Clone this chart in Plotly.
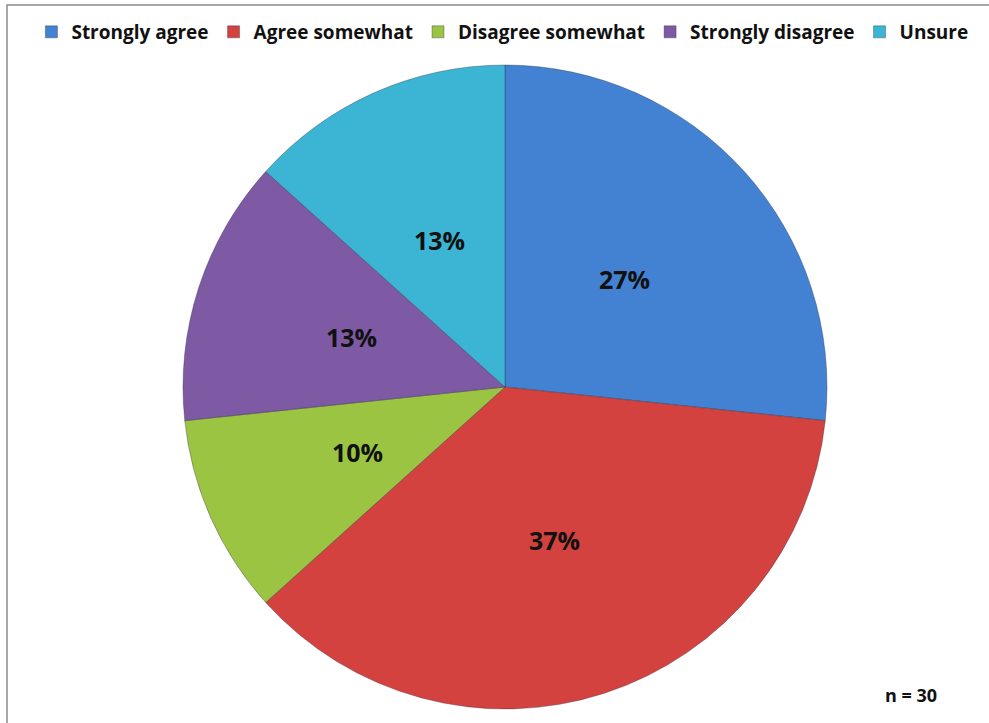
import math
import plotly.graph_objects as go

# Survey responses (n = 30)
categories = ["Strongly agree", "Agree somewhat", "Disagree somewhat",
              "Strongly disagree", "Unsure"]
counts = [8, 11, 3, 4, 4]
slice_colors = ["#4382d2", "#d3423e", "#9cc443", "#7d5aa3", "#3cb5d5"]
sample_note = "n = 30"

FONT = "Open Sans"
W, H = 989, 723

# pie placement (pixels) -> domain
cx, cy, r = 505, 387, 322
dom_x = [(cx - r) / W, (cx + r) / W]
dom_y = [1 - (cy + r) / H, 1 - (cy - r) / H]

fig = go.Figure(
    go.Pie(
        labels=categories,
        values=counts,
        sort=False,
        direction="clockwise",
        rotation=0,
        marker=dict(colors=slice_colors,
                    line=dict(color="rgba(40,40,60,0.35)", width=1)),
        textinfo="none",
        hoverinfo="label+value+percent",
        domain=dict(x=dom_x, y=dom_y),
    )
)

# percentage labels on each slice's bisector, halfway out
total = sum(counts)
start = 0.0
for v in counts:
    frac = v / total
    mid = (start + frac / 2) * 2 * math.pi  # clockwise from 12 o'clock
    start += frac
    px = cx + 0.5 * r * math.sin(mid)
    py = cy - 0.5 * r * math.cos(mid)
    fig.add_annotation(text=f"{round(frac * 100)}%", xref="paper", yref="paper",
                       x=px / W, y=1 - py / H, xanchor="center", yanchor="middle",
                       showarrow=False,
                       font=dict(family=FONT, size=25, color="#111111", weight="bold"))

# light frame along the top and left edges
fig.add_shape(type="rect", xref="paper", yref="paper",
              x0=7 / W, y0=-0.1, x1=1.1, y1=1 - 5 / H,
              line=dict(color="#8a8a8a", width=1.5), layer="below")

fig.add_annotation(text=sample_note, xref="paper", yref="paper",
                   x=911 / W, y=1 - 695 / H, xanchor="center", yanchor="middle",
                   showarrow=False,
                   font=dict(family=FONT, size=18, color="#111111", weight="bold"))

fig.update_layout(
    width=W, height=H,
    margin=dict(l=0, r=0, t=0, b=0),
    paper_bgcolor="white",
    plot_bgcolor="white",
    showlegend=True,
    legend=dict(orientation="h", x=0.508, xanchor="center",
                y=1 - 32 / H, yanchor="middle",
                bgcolor="rgba(0,0,0,0)",
                font=dict(family=FONT, size=19, color="#111111", weight="bold"),
                itemwidth=30, traceorder="normal"),
)

fig.write_html("out.html")
